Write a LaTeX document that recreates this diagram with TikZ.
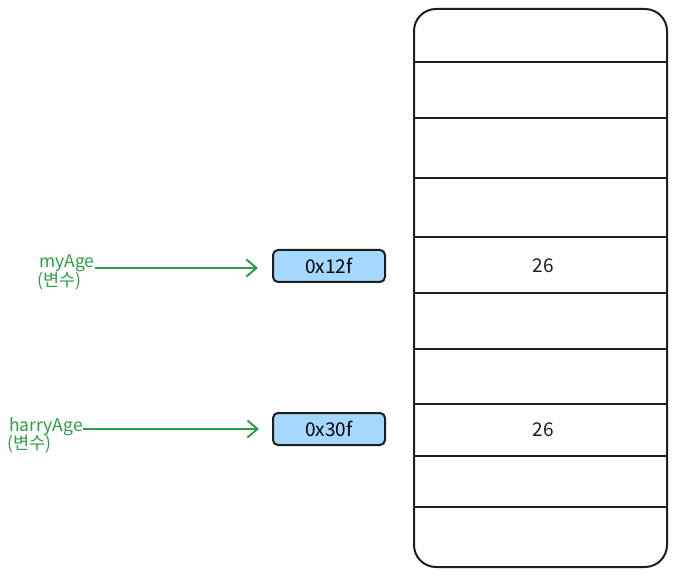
\documentclass[tikz,border=0pt]{standalone}
\usepackage{fontspec}
\setmainfont{Noto Sans CJK KR}
\usetikzlibrary{arrows.meta}
\definecolor{exgreen}{HTML}{2F9E44}
\definecolor{exblue}{HTML}{A5D8FF}
\definecolor{exink}{HTML}{1E1E1E}
\tikzset{
  addrbox/.style={draw=exink, fill=exblue, line width=2pt, rounded corners=5pt,
    minimum width=112pt, minimum height=32pt, inner sep=0pt, font=\fontsize{19}{22}\selectfont},
  varname/.style={text=exgreen, inner sep=0pt, anchor=base west, font=\fontsize{17.5}{20}\selectfont},
  varkind/.style={text=exgreen, inner sep=0pt, anchor=north west, font=\fontsize{17.5}{20}\selectfont},
  ptr/.style={draw=exgreen, line width=2pt, -{Straight Barb[length=10pt,width=17pt,line width=2pt]}},
  memline/.style={draw=exink, line width=2pt},
  cellval/.style={inner sep=0pt, font=\fontsize{19}{22}\selectfont, text=exink}
}
\begin{document}
\begin{tikzpicture}[x=1pt,y=-1pt]
\useasboundingbox (0,0) rectangle (680,577);
% memory column
\node[draw=exink, line width=2pt, rounded corners=22pt, minimum width=253pt, minimum height=558pt, inner sep=0pt] (mem) at (540.5,288) {};
\foreach \yy/\nm in {62/l1,118/l2,178/l3,237/l4,293/l5,349/l6,404/l7,456/l8,507/l9}{
  \coordinate (\nm a) at (414,\yy);
  \coordinate (\nm b) at (667,\yy);
  \draw[memline] (\nm a) -- (\nm b);
}
\node[cellval] (c1) at (543,266) {26};
\node[cellval] (c2) at (543,430) {26};
% address boxes
\node[addrbox] (b1) at (329,266) {0x12f};
\node[addrbox] (b2) at (329,429) {0x30f};
% variable labels
\node[varname] (n1) at (39,268) {myAge};
\node[varkind] (k1) at (37,272) {(변수)};
\node[varname] (n2) at (9,431) {harryAge};
\node[varkind] (k2) at (7,435) {(변수)};
% pointers
\draw[ptr, shorten >=14pt] (n1.base east) -- (n1.base east -| b1.west);
\draw[ptr, shorten >=13pt] ([yshift=2pt]n2.base east) -- ([yshift=2pt]n2.base east -| b2.west);
\end{tikzpicture}
\end{document}
